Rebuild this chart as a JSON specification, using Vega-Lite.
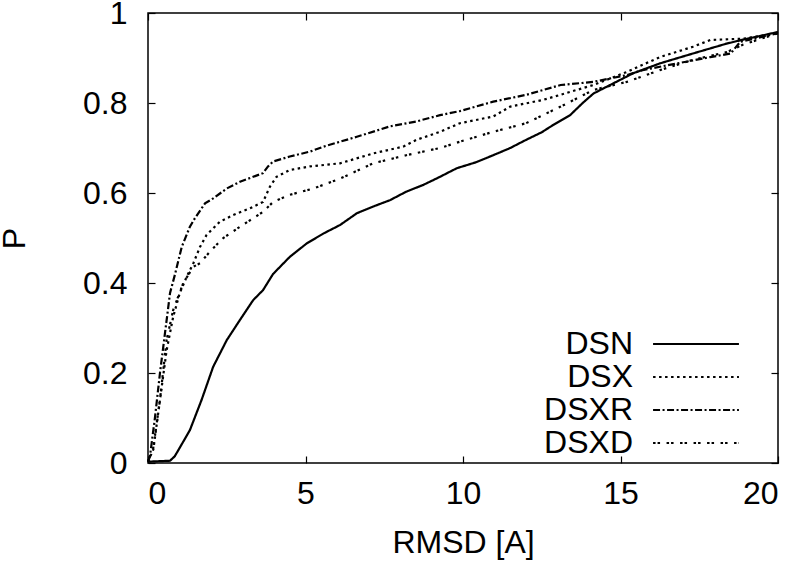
{
  "$schema": "https://vega.github.io/schema/vega-lite/v6.json",
  "autosize": "none",
  "width": 630,
  "height": 450,
  "padding": {"left": 148, "top": 13, "right": 22, "bottom": 101},
  "background": "white",
  "config": {
    "view": {"stroke": "black", "strokeWidth": 1.5},
    "font": "Liberation Sans",
    "axis": {"grid": false, "domain": false, "tickColor": "black", "tickSize": -7, "tickWidth": 1.2,
      "labelFont": "Liberation Sans", "labelFontSize": 32, "labelColor": "black",
      "titleFont": "Liberation Sans", "titleFontSize": 32, "titleFontWeight": "normal", "titleColor": "black"}
  },
  "data": {"values": [
    {"s":"DSN","x":0,"p":0.003},{"s":"DSN","x":0.7,"p":0.005},{"s":"DSN","x":0.85,"p":0.015},{"s":"DSN","x":1.0,"p":0.033},{"s":"DSN","x":1.33,"p":0.073},{"s":"DSN","x":1.7,"p":0.14},{"s":"DSN","x":2.07,"p":0.214},{"s":"DSN","x":2.5,"p":0.273},{"s":"DSN","x":2.92,"p":0.318},{"s":"DSN","x":3.34,"p":0.362},{"s":"DSN","x":3.65,"p":0.384},{"s":"DSN","x":3.97,"p":0.42},{"s":"DSN","x":4.5,"p":0.458},{"s":"DSN","x":5.04,"p":0.488},{"s":"DSN","x":5.57,"p":0.51},{"s":"DSN","x":6.1,"p":0.529},{"s":"DSN","x":6.63,"p":0.555},{"s":"DSN","x":7.15,"p":0.57},{"s":"DSN","x":7.68,"p":0.584},{"s":"DSN","x":8.2,"p":0.603},{"s":"DSN","x":8.74,"p":0.618},{"s":"DSN","x":9.27,"p":0.636},{"s":"DSN","x":9.8,"p":0.655},{"s":"DSN","x":10.4,"p":0.668},{"s":"DSN","x":10.96,"p":0.684},{"s":"DSN","x":11.5,"p":0.7},{"s":"DSN","x":12.0,"p":0.718},{"s":"DSN","x":12.5,"p":0.735},{"s":"DSN","x":12.86,"p":0.751},{"s":"DSN","x":13.4,"p":0.773},{"s":"DSN","x":13.8,"p":0.8},{"s":"DSN","x":14.14,"p":0.821},{"s":"DSN","x":14.67,"p":0.84},{"s":"DSN","x":15.4,"p":0.866},{"s":"DSN","x":16.25,"p":0.888},{"s":"DSN","x":17.3,"p":0.91},{"s":"DSN","x":18.37,"p":0.932},{"s":"DSN","x":18.9,"p":0.941},{"s":"DSN","x":19.5,"p":0.95},{"s":"DSN","x":20,"p":0.958},

    {"s":"DSX","x":0,"p":0.003},{"s":"DSX","x":0.17,"p":0.03},{"s":"DSX","x":0.38,"p":0.14},{"s":"DSX","x":0.59,"p":0.25},{"s":"DSX","x":0.8,"p":0.325},{"s":"DSX","x":1.01,"p":0.378},{"s":"DSX","x":1.23,"p":0.414},{"s":"DSX","x":1.44,"p":0.444},{"s":"DSX","x":1.65,"p":0.48},{"s":"DSX","x":1.86,"p":0.507},{"s":"DSX","x":2.28,"p":0.536},{"s":"DSX","x":2.7,"p":0.551},{"s":"DSX","x":3.24,"p":0.566},{"s":"DSX","x":3.65,"p":0.58},{"s":"DSX","x":3.87,"p":0.614},{"s":"DSX","x":4.08,"p":0.636},{"s":"DSX","x":4.5,"p":0.651},{"s":"DSX","x":5.14,"p":0.659},{"s":"DSX","x":6.1,"p":0.666},{"s":"DSX","x":7.15,"p":0.688},{"s":"DSX","x":8.1,"p":0.703},{"s":"DSX","x":8.52,"p":0.718},{"s":"DSX","x":9.27,"p":0.736},{"s":"DSX","x":9.9,"p":0.755},{"s":"DSX","x":10.96,"p":0.77},{"s":"DSX","x":11.5,"p":0.792},{"s":"DSX","x":12.55,"p":0.807},{"s":"DSX","x":14.14,"p":0.84},{"s":"DSX","x":15.2,"p":0.869},{"s":"DSX","x":16.25,"p":0.902},{"s":"DSX","x":17.3,"p":0.925},{"s":"DSX","x":17.85,"p":0.94},{"s":"DSX","x":18.9,"p":0.943},{"s":"DSX","x":20,"p":0.955},

    {"s":"DSXR","x":0,"p":0.003},{"s":"DSXR","x":0.06,"p":0.014},{"s":"DSXR","x":0.22,"p":0.1},{"s":"DSXR","x":0.38,"p":0.2},{"s":"DSXR","x":0.54,"p":0.289},{"s":"DSXR","x":0.7,"p":0.378},{"s":"DSXR","x":0.86,"p":0.42},{"s":"DSXR","x":1.07,"p":0.48},{"s":"DSXR","x":1.33,"p":0.525},{"s":"DSXR","x":1.49,"p":0.544},{"s":"DSXR","x":1.81,"p":0.577},{"s":"DSXR","x":2.07,"p":0.588},{"s":"DSXR","x":2.5,"p":0.61},{"s":"DSXR","x":2.92,"p":0.625},{"s":"DSXR","x":3.34,"p":0.636},{"s":"DSXR","x":3.65,"p":0.644},{"s":"DSXR","x":3.81,"p":0.659},{"s":"DSXR","x":3.97,"p":0.67},{"s":"DSXR","x":4.5,"p":0.681},{"s":"DSXR","x":5.14,"p":0.692},{"s":"DSXR","x":5.57,"p":0.703},{"s":"DSXR","x":6.63,"p":0.725},{"s":"DSXR","x":7.68,"p":0.748},{"s":"DSXR","x":8.52,"p":0.759},{"s":"DSXR","x":9.27,"p":0.773},{"s":"DSXR","x":9.9,"p":0.782},{"s":"DSXR","x":10.96,"p":0.803},{"s":"DSXR","x":12.0,"p":0.818},{"s":"DSXR","x":13.1,"p":0.84},{"s":"DSXR","x":14.14,"p":0.847},{"s":"DSXR","x":15.2,"p":0.862},{"s":"DSXR","x":15.7,"p":0.873},{"s":"DSXR","x":16.8,"p":0.888},{"s":"DSXR","x":17.85,"p":0.902},{"s":"DSXR","x":18.5,"p":0.91},{"s":"DSXR","x":18.8,"p":0.936},{"s":"DSXR","x":20,"p":0.955},

    {"s":"DSXD","x":0,"p":0.003},{"s":"DSXD","x":0.17,"p":0.035},{"s":"DSXD","x":0.38,"p":0.14},{"s":"DSXD","x":0.59,"p":0.273},{"s":"DSXD","x":0.8,"p":0.34},{"s":"DSXD","x":1.12,"p":0.4},{"s":"DSXD","x":1.44,"p":0.436},{"s":"DSXD","x":1.65,"p":0.444},{"s":"DSXD","x":1.97,"p":0.47},{"s":"DSXD","x":2.39,"p":0.5},{"s":"DSXD","x":2.92,"p":0.525},{"s":"DSXD","x":3.34,"p":0.544},{"s":"DSXD","x":3.65,"p":0.558},{"s":"DSXD","x":3.97,"p":0.58},{"s":"DSXD","x":4.5,"p":0.596},{"s":"DSXD","x":5.25,"p":0.61},{"s":"DSXD","x":6.1,"p":0.632},{"s":"DSXD","x":7.15,"p":0.666},{"s":"DSXD","x":8.2,"p":0.684},{"s":"DSXD","x":9.27,"p":0.7},{"s":"DSXD","x":9.9,"p":0.714},{"s":"DSXD","x":10.96,"p":0.736},{"s":"DSXD","x":12.0,"p":0.755},{"s":"DSXD","x":13.1,"p":0.792},{"s":"DSXD","x":14.14,"p":0.829},{"s":"DSXD","x":15.2,"p":0.847},{"s":"DSXD","x":16.25,"p":0.873},{"s":"DSXD","x":17.3,"p":0.896},{"s":"DSXD","x":18.37,"p":0.913},{"s":"DSXD","x":18.9,"p":0.93},{"s":"DSXD","x":20,"p":0.955}
  ]},
  "layer": [
    {
      "mark": {"type": "line", "color": "black", "strokeWidth": 2.2},
      "encoding": {
        "x": {"field": "x", "type": "quantitative", "scale": {"domain": [0, 20], "nice": false},
          "axis": {"orient": "bottom", "values": [0, 5, 10, 15, 20], "format": "d", "title": "RMSD [A]", "labelPadding": 22, "titlePadding": 18}},
        "y": {"field": "p", "type": "quantitative", "scale": {"domain": [0, 1], "nice": false},
          "axis": {"orient": "left", "values": [0, 0.2, 0.4, 0.6, 0.8, 1], "format": "~g", "title": "P", "labelPadding": 28, "titlePadding": 51}},
        "strokeDash": {"field": "s", "type": "nominal",
          "scale": {"domain": ["DSN", "DSX", "DSXR", "DSXD"], "range": [[1, 0], [2.5, 3.5], [7, 2.5, 2, 2.5], [2.5, 2, 2.5, 6.5]]},
          "legend": {"title": null, "orient": "none", "legendX": 532, "legendY": 315,
            "symbolType": "M-5,0H5", "symbolSize": 295, "symbolStrokeColor": "black", "symbolStrokeWidth": 2.2,
            "labelFont": "Liberation Sans", "labelFontSize": 32, "labelColor": "black", "labelAlign": "right",
            "labelOffset": -79, "rowPadding": 1, "labelLimit": 300}}
      }
    },
    {
      "mark": {"type": "point", "opacity": 0},
      "encoding": {
        "x": {"field": "x", "type": "quantitative", "scale": {"domain": [0, 20], "nice": false},
          "axis": {"orient": "top", "values": [0, 5, 10, 15, 20], "labels": false, "title": null}},
        "y": {"field": "p", "type": "quantitative", "scale": {"domain": [0, 1], "nice": false},
          "axis": {"orient": "right", "values": [0, 0.2, 0.4, 0.6, 0.8, 1], "labels": false, "title": null}}
      }
    }
  ],
  "resolve": {"axis": {"x": "independent", "y": "independent"}}
}
